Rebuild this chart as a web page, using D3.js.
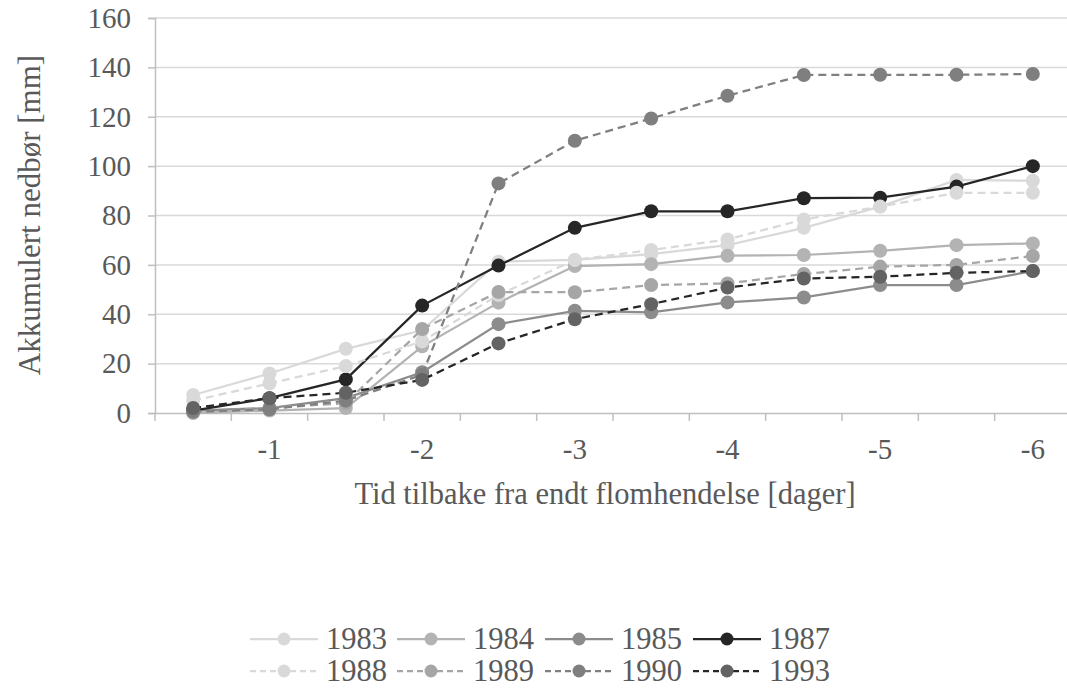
<!doctype html>
<html>
<head>
<meta charset="utf-8"/>
<title>Akkumulert nedbør</title>
<script src="https://d3js.org/d3.v7.min.js"></script>
<style>
  body { margin: 0; background: #fff; }
  svg text { font-family: "Liberation Serif", "Times New Roman", "DejaVu Serif", serif; fill: #595959; }
</style>
</head>
<body>
<div id="chart"></div>
<script>
// kategorier (dager tilbake), kun heltall får etikett
var dager = [-0.5, -1, -1.5, -2, -2.5, -3, -3.5, -4, -4.5, -5, -5.5, -6];
var yTicks = [0, 20, 40, 60, 80, 100, 120, 140, 160];

var aar = ["1983", "1984", "1985", "1987", "1988", "1989", "1990", "1993"];

var v1983 = [7.3, 16, 26, 33.5, 61.3, 62, 64.4, 68, 75, 83.6, 94.4, 94.1];
var v1984 = [0, 1, 2, 27, 44.7, 59.5, 60.3, 63.7, 64, 65.7, 68, 68.7];
var v1985 = [1, 2, 6, 16.5, 36, 41.4, 40.8, 44.8, 46.8, 51.8, 51.8, 57.5];
var v1987 = [1, 6, 13.6, 43.5, 59.7, 75, 81.7, 81.7, 87, 87.2, 91.7, 100];
var v1988 = [5, 12, 19, 29, 47.8, 62, 66, 70.3, 78.4, 83.6, 89.2, 89.2];
var v1989 = [0.5, 2, 4, 34, 49, 48.9, 51.8, 52.5, 56.3, 59.3, 60, 63.6];
var v1990 = [0.5, 1.5, 5, 15.5, 93, 110.3, 119.3, 128.5, 136.9, 137, 137, 137.3];
var v1993 = [2, 6, 8.2, 13.4, 28.2, 38, 44.1, 50.8, 54.5, 55.2, 56.8, 57.5];

var verdier = [v1983, v1984, v1985, v1987, v1988, v1989, v1990, v1993];
var linjeFarge = ["#d9d9d9", "#b3b3b3", "#8c8c8c", "#262626", "#d9d9d9", "#a6a6a6", "#7f7f7f", "#262626"];
var punktFarge = ["#d9d9d9", "#b3b3b3", "#8c8c8c", "#262626", "#d9d9d9", "#a6a6a6", "#7f7f7f", "#636363"];
var stiplet = [false, false, false, false, true, true, true, true];

var svg = d3.select("#chart")
    .append("svg")
    .attr("width", 1067)
    .attr("height", 690);

var x = d3.scaleBand().domain(dager).range([155, 1071]).padding(0);
var y = d3.scaleLinear().domain([0, 160]).range([413, 18]);

// rutenett
svg.append("g")
    .selectAll("line")
    .data(yTicks.slice(1))
    .enter().append("line")
    .attr("x1", 155).attr("x2", 1071)
    .attr("y1", function(d) { return y(d); })
    .attr("y2", function(d) { return y(d); })
    .attr("stroke", "#d9d9d9")
    .attr("stroke-width", 1.5);

// y-akse
var yAkse = svg.append("g")
    .attr("transform", "translate(155,0)")
    .call(d3.axisLeft(y).tickValues(yTicks).tickSize(7).tickPadding(17));
yAkse.attr("font-family", null);
yAkse.select(".domain").attr("stroke", "#bfbfbf").attr("stroke-width", 1.5);
yAkse.selectAll(".tick line").attr("stroke", "#bfbfbf").attr("stroke-width", 1.5);
yAkse.selectAll(".tick text")
    .style("font-size", "29px")
    .attr("fill", "#595959");

// x-akse
var xAkse = svg.append("g")
    .attr("transform", "translate(0,413)")
    .call(d3.axisBottom(x).tickSize(0).tickFormat(function(d) {
        return Number.isInteger(d) ? String(d) : "";
    }).tickPadding(25));
xAkse.attr("font-family", null);
xAkse.select(".domain").attr("stroke", "#bfbfbf").attr("stroke-width", 1.5);
xAkse.selectAll(".tick text")
    .style("font-size", "29px")
    .attr("fill", "#595959");

// tick-streker mellom kategoriene
svg.append("g")
    .selectAll("line")
    .data(dager)
    .enter().append("line")
    .attr("x1", function(d) { return x(d); })
    .attr("x2", function(d) { return x(d); })
    .attr("y1", 413).attr("y2", 421)
    .attr("stroke", "#bfbfbf")
    .attr("stroke-width", 1.5);

// aksetitler
svg.append("text")
    .attr("x", 605).attr("y", 504)
    .attr("text-anchor", "middle")
    .style("font-size", "30.5px")
    .text("Tid tilbake fra endt flomhendelse [dager]");

svg.append("text")
    .attr("transform", "translate(40,215) rotate(-90)")
    .attr("text-anchor", "middle")
    .style("font-size", "31px")
    .text("Akkumulert nedbør [mm]");

// serier
var linje = d3.line()
    .x(function(d, i) { return x(dager[i]) + x.bandwidth() / 2; })
    .y(function(d) { return y(d); });

verdier.forEach(function(serie, s) {
    var g = svg.append("g");
    g.append("path")
        .datum(serie)
        .attr("d", linje)
        .attr("fill", "none")
        .attr("stroke", linjeFarge[s])
        .attr("stroke-width", 2.25)
        .attr("stroke-dasharray", stiplet[s] ? "8,5" : null);
    g.selectAll("circle")
        .data(serie)
        .enter().append("circle")
        .attr("cx", function(d, i) { return x(dager[i]) + x.bandwidth() / 2; })
        .attr("cy", function(d) { return y(d); })
        .attr("r", 7)
        .attr("fill", punktFarge[s]);
});

// tegnforklaring
var legX = [250, 397, 545, 693];
var legY = [639, 671];
aar.forEach(function(navn, s) {
    var lx = legX[s % 4];
    var ly = legY[Math.floor(s / 4)];
    var g = svg.append("g");
    g.append("line")
        .attr("x1", lx).attr("x2", lx + 68)
        .attr("y1", ly).attr("y2", ly)
        .attr("stroke", linjeFarge[s])
        .attr("stroke-width", 2.25)
        .attr("stroke-dasharray", stiplet[s] ? "6,4" : null);
    g.append("circle")
        .attr("cx", lx + 34).attr("cy", ly)
        .attr("r", 6.5)
        .attr("fill", punktFarge[s]);
    g.append("text")
        .attr("x", lx + 76).attr("y", ly + 10)
        .style("font-size", "30.5px")
        .text(navn);
});
</script>
</body>
</html>
